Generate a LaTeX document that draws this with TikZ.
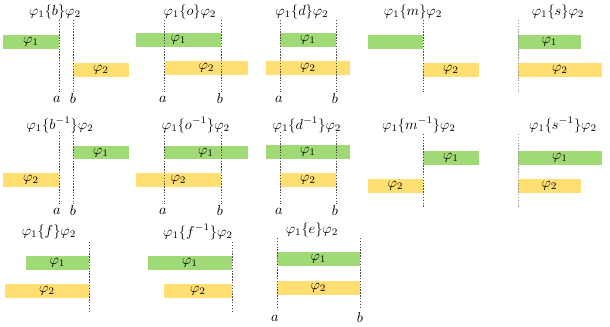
\documentclass[tikz,border=0pt]{standalone}
\usepackage{tikz}
\definecolor{barGreen}{RGB}{160,218,118}
\definecolor{barYellow}{RGB}{255,222,114}
\begin{document}
\begin{tikzpicture}[x=0.7pt, y=-0.7pt,
  phione/.style={fill=barGreen},
  phitwo/.style={fill=barYellow},
  guide/.style={draw=black!70, dash pattern=on 1pt off 1pt, line width=0.35pt},
  lbl/.style={inner sep=0pt}]
  \useasboundingbox (0,0) rectangle (610,327);
  % row 1
  \fill[phione] (3,35) rectangle node[lbl] (b1) {$\varphi_1$} (59,49);
  \fill[phitwo] (73,63) rectangle node[lbl] (b2) {$\varphi_2$} (129,77);
  \fill[phione] (136,33) rectangle node[lbl] (o1) {$\varphi_1$} (221,47);
  \fill[phitwo] (165,61) rectangle node[lbl] (o2) {$\varphi_2$} (248,75);
  \fill[phione] (280,33) rectangle node[lbl] (d1) {$\varphi_1$} (336,47);
  \fill[phitwo] (266,61) rectangle node[lbl] (d2) {$\varphi_2$} (350,75);
  \fill[phione] (368,35) rectangle node[lbl] (m1) {} (423,49);
  \fill[phitwo] (423,63) rectangle node[lbl] (m2) {$\varphi_2$} (479,77);
  \fill[phione] (518,35) rectangle node[lbl] (s1) {$\varphi_1$} (581,49);
  \fill[phitwo] (518,63) rectangle node[lbl] (s2) {$\varphi_2$} (602,77);
  \draw[guide] (59,20) -- (59,92);
  \draw[guide] (73,20) -- (73,92);
  \draw[guide] (164,20) -- (164,92);
  \draw[guide] (221,20) -- (221,92);
  \draw[guide] (280,20) -- (280,92);
  \draw[guide] (336,20) -- (336,92);
  \draw[guide] (423,20) -- (423,92);
  \draw[guide, draw=black!40] (518,20) -- (518,92);
  \node (tb) at (55,12) {$\varphi_1\{b\}\varphi_2$};
  \node (to) at (190,12) {$\varphi_1\{o\}\varphi_2$};
  \node (td) at (302,12) {$\varphi_1\{d\}\varphi_2$};
  \node (tm) at (413,12) {$\varphi_1\{m\}\varphi_2$};
  \node (ts) at (558,12) {$\varphi_1\{s\}\varphi_2$};
  \node (ba) at (57,99) {$a$};
  \node (bb) at (73,99) {$b$};
  \node (oa) at (163,99) {$a$};
  \node (ob) at (220,99) {$b$};
  \node (da) at (279,99) {$a$};
  \node (db) at (335,99) {$b$};
  % row 2
  \fill[phione] (73,146) rectangle node[lbl] (bi1) {$\varphi_1$} (129,159);
  \fill[phitwo] (3,173) rectangle node[lbl] (bi2) {$\varphi_2$} (59,187);
  \fill[phione] (164,146) rectangle node[lbl] (oi1) {$\varphi_1$} (248,159);
  \fill[phitwo] (136,173) rectangle node[lbl] (oi2) {$\varphi_2$} (221,187);
  \fill[phione] (266,145) rectangle node[lbl] (di1) {$\varphi_1$} (350,159);
  \fill[phitwo] (280,173) rectangle node[lbl] (di2) {$\varphi_2$} (336,187);
  \fill[phione] (423,151) rectangle node[lbl] (mi1) {$\varphi_1$} (479,165);
  \fill[phitwo] (368,179) rectangle node[lbl] (mi2) {$\varphi_2$} (423,193);
  \fill[phione] (518,151) rectangle node[lbl] (si1) {$\varphi_1$} (602,165);
  \fill[phitwo] (518,179) rectangle node[lbl] (si2) {$\varphi_2$} (581,193);
  \draw[guide] (59,132) -- (59,204);
  \draw[guide] (73,132) -- (73,204);
  \draw[guide] (164,132) -- (164,204);
  \draw[guide] (221,132) -- (221,204);
  \draw[guide] (280,132) -- (280,204);
  \draw[guide] (336,132) -- (336,204);
  \draw[guide] (423,134) -- (423,208);
  \draw[guide, draw=black!40] (518,134) -- (518,208);
  \node (tbi) at (60,125) {$\varphi_1\{b^{-1}\}\varphi_2$};
  \node (toi) at (196,125) {$\varphi_1\{o^{-1}\}\varphi_2$};
  \node (tdi) at (307,125) {$\varphi_1\{d^{-1}\}\varphi_2$};
  \node (tmi) at (419,125) {$\varphi_1\{m^{-1}\}\varphi_2$};
  \node (tsi) at (563,125) {$\varphi_1\{s^{-1}\}\varphi_2$};
  \node (bia) at (57,211) {$a$};
  \node (bib) at (73,211) {$b$};
  \node (oia) at (163,211) {$a$};
  \node (oib) at (220,211) {$b$};
  \node (dia) at (279,211) {$a$};
  \node (dib) at (335,211) {$b$};
  % row 3
  \fill[phione] (26,256) rectangle node[lbl] (f1) {$\varphi_1$} (89,270);
  \fill[phitwo] (5,284) rectangle node[lbl] (f2) {$\varphi_2$} (89,298);
  \fill[phione] (148,256) rectangle node[lbl] (fi1) {$\varphi_1$} (232,270);
  \fill[phitwo] (164,284) rectangle node[lbl] (fi2) {$\varphi_2$} (232,298);
  \fill[phione] (277,252) rectangle node[lbl] (e1) {$\varphi_1$} (360,266);
  \fill[phitwo] (277,281) rectangle node[lbl] (e2) {$\varphi_2$} (360,295);
  \draw[guide] (89,242) -- (89,312);
  \draw[guide] (232,242) -- (232,312);
  \draw[guide] (277,238) -- (277,308);
  \draw[guide] (360,238) -- (360,308);
  \node (tf) at (49,232) {$\varphi_1\{f\}\varphi_2$};
  \node (tfi) at (198,232) {$\varphi_1\{f^{-1}\}\varphi_2$};
  \node (te) at (312,230) {$\varphi_1\{e\}\varphi_2$};
  \node (ea) at (275,318) {$a$};
  \node (eb) at (360,318) {$b$};
\end{tikzpicture}
\end{document}
